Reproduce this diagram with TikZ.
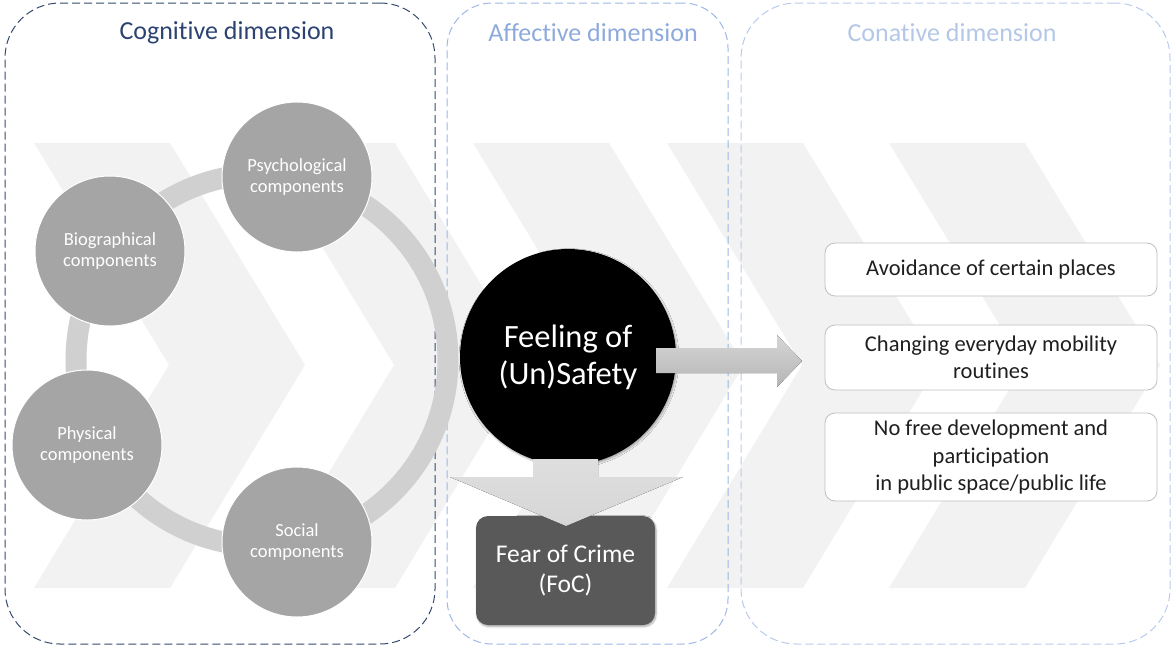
\documentclass[tikz,border=0pt]{standalone}
\usepackage{fontspec}
\setmainfont{Carlito}[Ligatures=NoCommon]
\usetikzlibrary{shadows.blur}

\definecolor{chevgray}{HTML}{F2F2F2}
\definecolor{ringgray}{HTML}{D0D0D0}
\definecolor{compgray}{HTML}{A5A5A5}
\definecolor{focgray}{HTML}{595959}
\definecolor{cogline}{HTML}{34496E}
\definecolor{cogtext}{HTML}{2C4372}
\definecolor{affline}{HTML}{9DB7E6}
\definecolor{afftext}{HTML}{8EAADC}
\definecolor{conline}{HTML}{B7CBEE}
\definecolor{context}{HTML}{B4C7E7}
\definecolor{boxline}{HTML}{BFBFBF}
\definecolor{arrowlight}{HTML}{D6D6D6}
\definecolor{arrowdark}{HTML}{B5B5B5}

\tikzset{
  dimbox/.style={rectangle, dash pattern=on 8pt off 4pt, line width=1pt, inner sep=0pt},
  dimtitle/.style={font=\fontsize{26}{30}\selectfont, inner sep=0pt},
  component/.style={circle, fill=compgray, draw=white, line width=1pt, minimum size=150pt,
    inner sep=0pt, text=white, align=center, font=\fontsize{18.5}{21}\selectfont},
  outcome/.style={rectangle, rounded corners=10pt, draw=boxline, line width=0.8pt, fill=white,
    minimum width=332pt, inner sep=0pt, align=center, text=black!88,
    font=\fontsize{22.5}{27.5}\selectfont},
  blockarrow/.style={top color=arrowlight, bottom color=arrowdark, draw=none},
  softshadow/.style={blur shadow={shadow xshift=1pt, shadow yshift=-1.5pt,
    shadow blur steps=6, shadow opacity=35}}
}

% one chevron of the background band, given its top-left x position
\newcommand{\bandchevron}[1]{%
  \fill[chevgray] (#1,143) -- ++(136,0) -- ++(135,222) -- ++(-135,223) -- ++(-136,0)
    -- ++(135,-223) -- cycle;}

\begin{document}
\begin{tikzpicture}[x=1pt, y=-1pt]
\useasboundingbox (0,0) rectangle (1172,646);

% background chevron band
\bandchevron{34}
\bandchevron{259}
\bandchevron{473}
\bandchevron{667}
\bandchevron{889}

% the three dimension frames
\node[dimbox, draw=cogline, rounded corners=55pt, minimum width=430pt, minimum height=641pt]
  (cogframe) at (220,323.5) {};
\node[dimbox, draw=affline, rounded corners=45pt, minimum width=281pt, minimum height=641pt]
  (affframe) at (587.5,323.5) {};
\node[dimbox, draw=conline, rounded corners=55pt, minimum width=429pt, minimum height=641pt]
  (conframe) at (955.5,323.5) {};

\node[dimtitle, text=cogtext] (cogtitle) at (227,33) {Cognitive dimension};
\node[dimtitle, text=afftext] (afftitle) at (593,33) {Affective dimension};
\node[dimtitle, text=context] (contitle) at (952,33) {Conative dimension};

% ring linking the components
\coordinate (ringc) at (262,360);
\draw[ringgray, line width=21pt] (ringc) circle[radius=186pt];

% cognitive components
\node[component] (psych) at (297,177) {Psychological\\components};
\node[component] (bio)   at (110,251) {Biographical\\components};
\node[component] (phys)  at (87,445)  {Physical\\components};
\node[component] (soc)   at (297,542) {Social\\components};

% affective core
\node[circle, fill=black, minimum size=216pt, inner sep=0pt, text=white, align=center,
  font=\fontsize{32.5}{37}\selectfont, softshadow] (feel) at (568,357) {Feeling of\\(Un)Safety};

\node[rectangle, rounded corners=12pt, fill=focgray, minimum width=179pt, minimum height=109pt,
  inner sep=0pt, text=white, align=center, font=\fontsize{25.5}{30}\selectfont, softshadow]
  (foc) at (565.5,570.5) {Fear of Crime\\(FoC)};

% conative outcomes
\node[outcome, minimum height=53pt] (avoid) at (991,269.5) {Avoidance of certain places};
\node[outcome, minimum height=65pt] (mobil) at (991,357.5) {Changing everyday mobility\\routines};
\node[outcome, minimum height=88pt] (partic) at (991,457)
  {No free development and\\participation\\in public space/public life};

% block arrow from the feeling to the outcomes
\coordinate (rtip) at (802,361);
\fill[blockarrow] (656,348) -- (777,348) -- (777,335) -- (rtip) -- (777,387) -- (777,373)
  -- (656,373) -- cycle;

% block arrow from the feeling down to fear of crime
\coordinate (dtip) at (566,526);
\fill[blockarrow, top color=arrowlight!80!white, bottom color=arrowlight]
  (533,459) -- (598,459) -- (598,477) -- (683,477) -- (dtip) -- (450,477) -- (533,477) -- cycle;

\end{tikzpicture}
\end{document}
